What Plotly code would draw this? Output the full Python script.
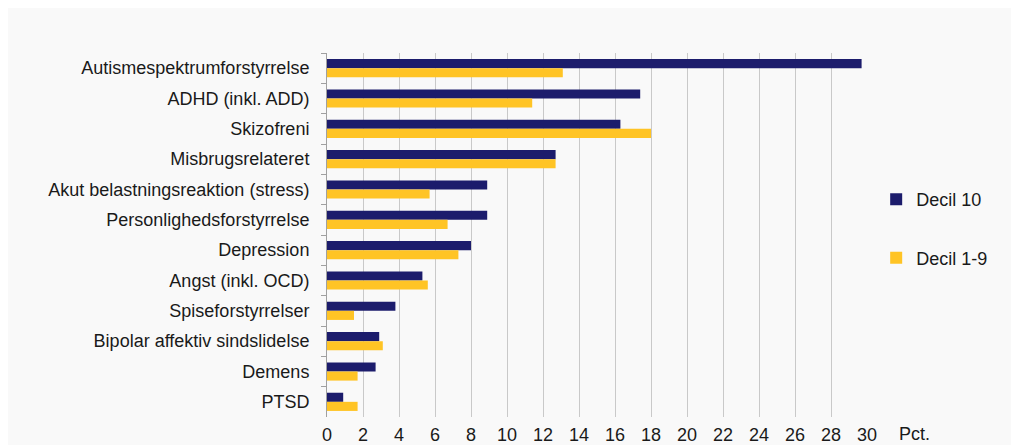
import plotly.graph_objects as go

categories = [
    "Autismespektrumforstyrrelse",
    "ADHD (inkl. ADD)",
    "Skizofreni",
    "Misbrugsrelateret",
    "Akut belastningsreaktion (stress)",
    "Personlighedsforstyrrelse",
    "Depression",
    "Angst (inkl. OCD)",
    "Spiseforstyrrelser",
    "Bipolar affektiv sindslidelse",
    "Demens",
    "PTSD",
]
decil_10 = [29.7, 17.4, 16.3, 12.7, 8.9, 8.9, 8.0, 5.3, 3.8, 2.9, 2.7, 0.9]
decil_1_9 = [13.1, 11.4, 18.0, 12.7, 5.7, 6.7, 7.3, 5.6, 1.5, 3.1, 1.7, 1.7]
x_ticks = list(range(0, 31, 2))

font_family = "Liberation Sans, Arial, sans-serif"
bg = "#f9f9f9"
fs = 18

fig = go.Figure()
fig.add_trace(go.Bar(
    y=categories, x=decil_10, orientation="h", name="Decil 10",
    marker=dict(color="#1c1c6c", line=dict(width=0)), legendgroup="a",
))
fig.add_trace(go.Bar(
    y=categories, x=decil_1_9, orientation="h", name="Decil 1-9",
    marker=dict(color="#ffc425", line=dict(width=0)), legendgroup="b",
))

# page body has an 8px margin, so the figure is drawn 8px in from the top-left
fig.update_layout(
    width=1011, height=437,
    margin=dict(l=319, r=152, t=45, b=28),
    paper_bgcolor=bg, plot_bgcolor=bg,
    barmode="group", bargap=0.40, bargroupgap=0,
    font=dict(family=font_family, size=fs, color="#1a1a1a"),
    legend=dict(
        x=1.017, y=0.648, xanchor="left", yanchor="top",
        traceorder="grouped", tracegroupgap=32,
        font=dict(size=fs), bgcolor="rgba(0,0,0,0)",
        itemwidth=30,
    ),
    xaxis=dict(
        range=[0, 30], tickvals=x_ticks, ticktext=[str(v) for v in x_ticks],
        showgrid=True, gridcolor="#c9c9c9", gridwidth=1,
        zeroline=False, showline=False, ticks="", automargin=False,
        ticklabelstandoff=5, tickfont=dict(size=fs),
    ),
    yaxis=dict(
        autorange="reversed", showline=True, linecolor="#a0a0a0", linewidth=1,
        ticks="outside", ticklen=5, tickcolor="#a0a0a0", tickson="boundaries",
        showgrid=False, ticklabelstandoff=13, tickfont=dict(size=fs),
        automargin=False,
    ),
    annotations=[dict(
        text="Pct.", xref="paper", x=1.055, xanchor="left",
        yref="paper", y=0, yanchor="middle", yshift=-17,
        showarrow=False, font=dict(size=fs, color="#1a1a1a"),
    )],
)

fig.write_html("out.html")
